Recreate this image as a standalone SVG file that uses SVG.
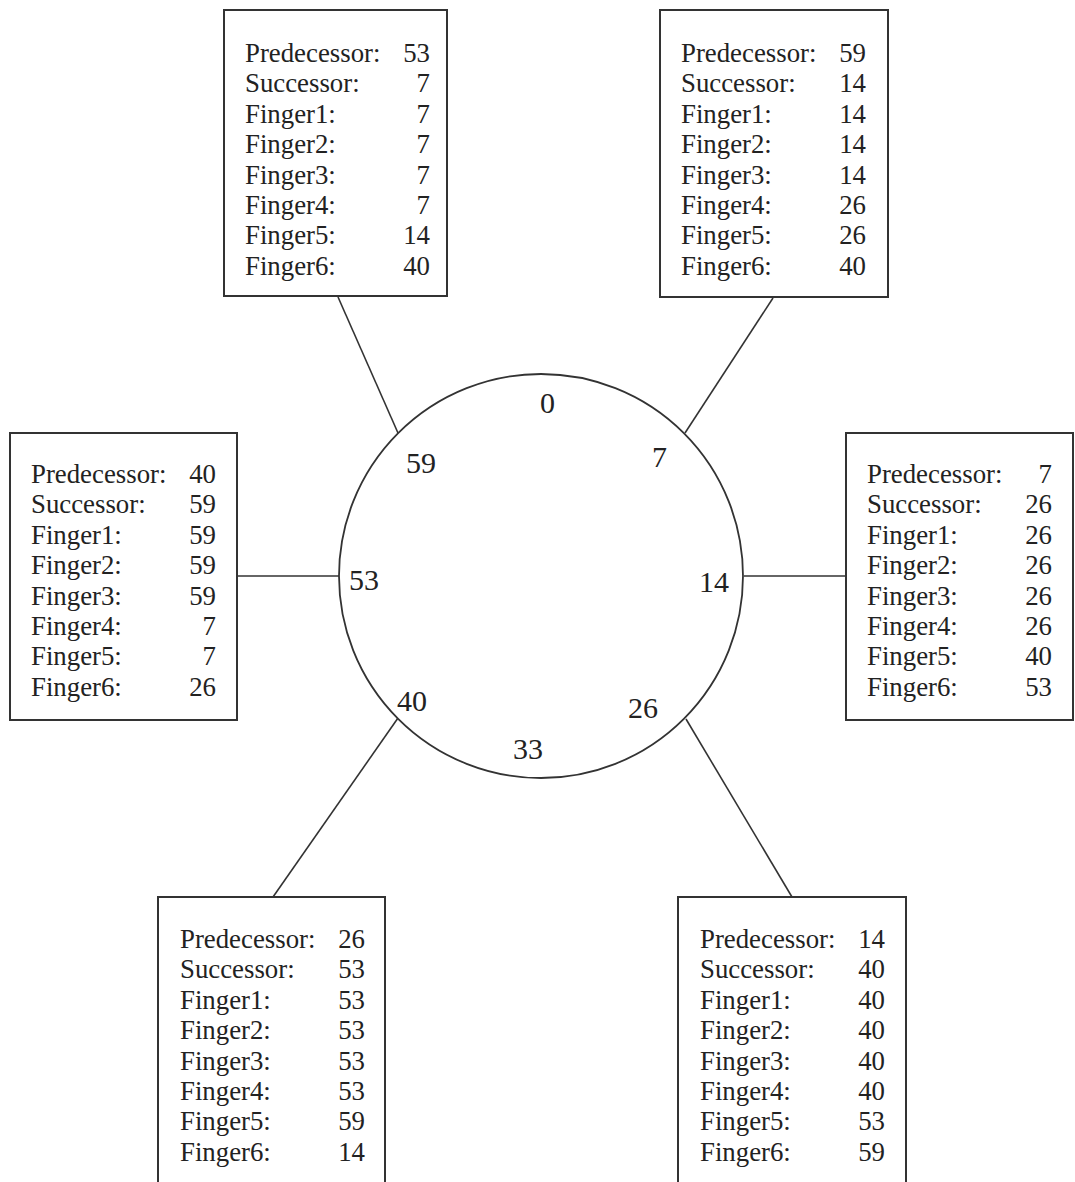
<svg xmlns="http://www.w3.org/2000/svg" width="1075" height="1182" viewBox="0 0 1075 1182">
  <style>
    .box { fill: #fff; stroke: #333; stroke-width: 2; }
    .ring { fill: #fff; stroke: #333; stroke-width: 1.8; }
    .link { stroke: #333; stroke-width: 1.6; fill: none; }
    text { font-family: "Liberation Serif", "Times New Roman", serif; fill: #222; }
    .lbl { font-size: 26.8px; }
    .val { font-size: 26.8px; text-anchor: end; }
    .id { font-size: 30px; }
  </style>
  <rect width="1075" height="1182" fill="#fff"/>

  <!-- links between ring positions and finger tables -->
  <g id="connectors">
    <line class="link" x1="338" y1="297" x2="398" y2="433"/>
    <line class="link" x1="773" y1="298" x2="685" y2="433"/>
    <line class="link" x1="237" y1="576" x2="339" y2="576"/>
    <line class="link" x1="744" y1="576" x2="846" y2="576"/>
    <line class="link" x1="398" y1="718" x2="273" y2="897"/>
    <line class="link" x1="686" y1="719" x2="792" y2="897"/>
  </g>

  <!-- identifier ring -->
  <g id="ring">
    <circle class="ring" cx="541" cy="576" r="202"/>
    <text class="id" x="540" y="413">0</text>
    <text class="id" x="652" y="467">7</text>
    <text class="id" x="699" y="592">14</text>
    <text class="id" x="628" y="718">26</text>
    <text class="id" x="513" y="759">33</text>
    <text class="id" x="397" y="711">40</text>
    <text class="id" x="349" y="590">53</text>
    <text class="id" x="406" y="473">59</text>
  </g>

  <!-- node 59 -->
  <g id="node59" transform="translate(224,10)">
    <rect class="box" x="0" y="0" width="223" height="286"/>
    <text class="lbl" x="21" y="52">Predecessor:</text><text class="val" x="206" y="52">53</text>
    <text class="lbl" x="21" y="82.4">Successor:</text><text class="val" x="206" y="82.4">7</text>
    <text class="lbl" x="21" y="112.8">Finger1:</text><text class="val" x="206" y="112.8">7</text>
    <text class="lbl" x="21" y="143.2">Finger2:</text><text class="val" x="206" y="143.2">7</text>
    <text class="lbl" x="21" y="173.6">Finger3:</text><text class="val" x="206" y="173.6">7</text>
    <text class="lbl" x="21" y="204">Finger4:</text><text class="val" x="206" y="204">7</text>
    <text class="lbl" x="21" y="234.4">Finger5:</text><text class="val" x="206" y="234.4">14</text>
    <text class="lbl" x="21" y="264.8">Finger6:</text><text class="val" x="206" y="264.8">40</text>
  </g>

  <!-- node 7 -->
  <g id="node7" transform="translate(660,10)">
    <rect class="box" x="0" y="0" width="228" height="287"/>
    <text class="lbl" x="21" y="52">Predecessor:</text><text class="val" x="206" y="52">59</text>
    <text class="lbl" x="21" y="82.4">Successor:</text><text class="val" x="206" y="82.4">14</text>
    <text class="lbl" x="21" y="112.8">Finger1:</text><text class="val" x="206" y="112.8">14</text>
    <text class="lbl" x="21" y="143.2">Finger2:</text><text class="val" x="206" y="143.2">14</text>
    <text class="lbl" x="21" y="173.6">Finger3:</text><text class="val" x="206" y="173.6">14</text>
    <text class="lbl" x="21" y="204">Finger4:</text><text class="val" x="206" y="204">26</text>
    <text class="lbl" x="21" y="234.4">Finger5:</text><text class="val" x="206" y="234.4">26</text>
    <text class="lbl" x="21" y="264.8">Finger6:</text><text class="val" x="206" y="264.8">40</text>
  </g>

  <!-- node 53 -->
  <g id="node53" transform="translate(10,433)">
    <rect class="box" x="0" y="0" width="227" height="287"/>
    <text class="lbl" x="21" y="50">Predecessor:</text><text class="val" x="206" y="50">40</text>
    <text class="lbl" x="21" y="80.4">Successor:</text><text class="val" x="206" y="80.4">59</text>
    <text class="lbl" x="21" y="110.8">Finger1:</text><text class="val" x="206" y="110.8">59</text>
    <text class="lbl" x="21" y="141.2">Finger2:</text><text class="val" x="206" y="141.2">59</text>
    <text class="lbl" x="21" y="171.6">Finger3:</text><text class="val" x="206" y="171.6">59</text>
    <text class="lbl" x="21" y="202">Finger4:</text><text class="val" x="206" y="202">7</text>
    <text class="lbl" x="21" y="232.4">Finger5:</text><text class="val" x="206" y="232.4">7</text>
    <text class="lbl" x="21" y="262.8">Finger6:</text><text class="val" x="206" y="262.8">26</text>
  </g>

  <!-- node 14 -->
  <g id="node14" transform="translate(846,433)">
    <rect class="box" x="0" y="0" width="227" height="287"/>
    <text class="lbl" x="21" y="50">Predecessor:</text><text class="val" x="206" y="50">7</text>
    <text class="lbl" x="21" y="80.4">Successor:</text><text class="val" x="206" y="80.4">26</text>
    <text class="lbl" x="21" y="110.8">Finger1:</text><text class="val" x="206" y="110.8">26</text>
    <text class="lbl" x="21" y="141.2">Finger2:</text><text class="val" x="206" y="141.2">26</text>
    <text class="lbl" x="21" y="171.6">Finger3:</text><text class="val" x="206" y="171.6">26</text>
    <text class="lbl" x="21" y="202">Finger4:</text><text class="val" x="206" y="202">26</text>
    <text class="lbl" x="21" y="232.4">Finger5:</text><text class="val" x="206" y="232.4">40</text>
    <text class="lbl" x="21" y="262.8">Finger6:</text><text class="val" x="206" y="262.8">53</text>
  </g>

  <!-- node 40 -->
  <g id="node40" transform="translate(158,897)">
    <rect class="box" x="0" y="0" width="227" height="300"/>
    <text class="lbl" x="22" y="51">Predecessor:</text><text class="val" x="207" y="51">26</text>
    <text class="lbl" x="22" y="81.4">Successor:</text><text class="val" x="207" y="81.4">53</text>
    <text class="lbl" x="22" y="111.8">Finger1:</text><text class="val" x="207" y="111.8">53</text>
    <text class="lbl" x="22" y="142.2">Finger2:</text><text class="val" x="207" y="142.2">53</text>
    <text class="lbl" x="22" y="172.6">Finger3:</text><text class="val" x="207" y="172.6">53</text>
    <text class="lbl" x="22" y="203">Finger4:</text><text class="val" x="207" y="203">53</text>
    <text class="lbl" x="22" y="233.4">Finger5:</text><text class="val" x="207" y="233.4">59</text>
    <text class="lbl" x="22" y="263.8">Finger6:</text><text class="val" x="207" y="263.8">14</text>
  </g>

  <!-- node 26 -->
  <g id="node26" transform="translate(678,897)">
    <rect class="box" x="0" y="0" width="228" height="300"/>
    <text class="lbl" x="22" y="51">Predecessor:</text><text class="val" x="207" y="51">14</text>
    <text class="lbl" x="22" y="81.4">Successor:</text><text class="val" x="207" y="81.4">40</text>
    <text class="lbl" x="22" y="111.8">Finger1:</text><text class="val" x="207" y="111.8">40</text>
    <text class="lbl" x="22" y="142.2">Finger2:</text><text class="val" x="207" y="142.2">40</text>
    <text class="lbl" x="22" y="172.6">Finger3:</text><text class="val" x="207" y="172.6">40</text>
    <text class="lbl" x="22" y="203">Finger4:</text><text class="val" x="207" y="203">40</text>
    <text class="lbl" x="22" y="233.4">Finger5:</text><text class="val" x="207" y="233.4">53</text>
    <text class="lbl" x="22" y="263.8">Finger6:</text><text class="val" x="207" y="263.8">59</text>
  </g>
</svg>
